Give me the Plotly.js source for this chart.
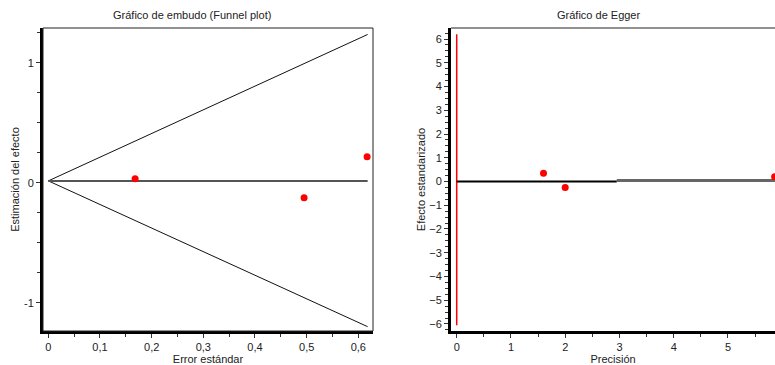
<!DOCTYPE html>
<html>
<head>
<meta charset="utf-8">
<script src="https://cdn.plot.ly/plotly-3.0.1.min.js"></script>
<style>html,body{margin:0;padding:0;background:#fff}#chart{width:775px;height:365px}</style>
</head>
<body>
<div id="chart"></div>
<script>
// Funnel plot data (standard error vs effect estimate)
var seValues = [0.168, 0.495, 0.617];
var effectValues = [0.033, -0.125, 0.217];
// Funnel limits
var funnelX = [0, 0.618];
var funnelUpper = [0.015, 1.235];
var funnelLower = [0.015, -1.2];
var pooledX = [0, 0.618];
var pooledY = [0.015, 0.015];

// Egger plot data (precision vs standardized effect)
var precisionValues = [1.6, 2.0, 5.86];
var stdEffectValues = [0.35, -0.25, 0.2];
var eggerBlackX = [0, 2.95];
var eggerBlackY = [0, 0];
var eggerGrayX = [2.95, 6.2];
var eggerGrayY = [0.04, 0.04];
var redLineX = [0, 0];
var redLineY = [-6.05, 6.2];

var leftXTicks = [0, 0.1, 0.2, 0.3, 0.4, 0.5, 0.6];
var leftYTicks = [-1, 0, 1];
var rightXTicks = [0, 1, 2, 3, 4, 5];
var rightYTicks = [-6, -5, -4, -3, -2, -1, 0, 1, 2, 3, 4, 5, 6];

var font = {family: 'Liberation Sans, Arial, sans-serif', size: 11, color: '#222'};

var traces = [
  {x: funnelX, y: funnelUpper, mode: 'lines', line: {color: '#111', width: 1}, xaxis: 'x', yaxis: 'y', hoverinfo: 'skip'},
  {x: funnelX, y: funnelLower, mode: 'lines', line: {color: '#111', width: 1}, xaxis: 'x', yaxis: 'y', hoverinfo: 'skip'},
  {x: pooledX, y: pooledY, mode: 'lines', line: {color: '#555', width: 2}, xaxis: 'x', yaxis: 'y', hoverinfo: 'skip'},
  {x: seValues, y: effectValues, mode: 'markers', marker: {color: '#ff0000', size: 7}, xaxis: 'x', yaxis: 'y', cliponaxis: false},

  {x: redLineX, y: redLineY, mode: 'lines', line: {color: '#ff0000', width: 1.5}, xaxis: 'x2', yaxis: 'y2', hoverinfo: 'skip'},
  {x: eggerGrayX, y: eggerGrayY, mode: 'lines', line: {color: '#666', width: 3}, xaxis: 'x2', yaxis: 'y2', hoverinfo: 'skip'},
  {x: eggerBlackX, y: eggerBlackY, mode: 'lines', line: {color: '#000', width: 2}, xaxis: 'x2', yaxis: 'y2', hoverinfo: 'skip'},
  {x: precisionValues, y: stdEffectValues, mode: 'markers', marker: {color: '#ff0000', size: 7}, xaxis: 'x2', yaxis: 'y2', cliponaxis: false}
];

var W = 775, H = 365;
function fx(p){return p / W;}
function fy(p){return 1 - p / H;}

var axisCommon = {
  showgrid: false, zeroline: false, showline: true, linecolor: '#000', linewidth: 3,
  ticks: 'outside', ticklen: 4, tickwidth: 1, tickcolor: '#333',
  tickfont: font, fixedrange: true
};

var layout = {
  width: W, height: H,
  margin: {l: 0, r: 0, t: 0, b: 0},
  paper_bgcolor: '#fff', plot_bgcolor: '#fff',
  showlegend: false,
  separators: ',.',
  font: font,
  xaxis: Object.assign({}, axisCommon, {
    domain: [fx(43), fx(373)], range: [-0.0103, 0.6284], anchor: 'y',
    tickvals: leftXTicks, ticktext: leftXTicks.map(function(v){return v === 0 ? '0' : String(v).replace('.', ',');}),
    minor: {dtick: 0.05, tick0: 0, ticks: 'outside', ticklen: 3, tickcolor: '#333'},
    title: {text: 'Error estándar', font: font, standoff: 4}
  }),
  yaxis: Object.assign({}, axisCommon, {
    domain: [fy(331), fy(28)], range: [-1.236, 1.289], anchor: 'x',
    tickvals: leftYTicks, ticktext: ['-1', '0', '1'],
    minor: {dtick: 0.25, tick0: 0, ticks: 'outside', ticklen: 3, tickcolor: '#333'},
    title: {text: 'Estimación del efecto', font: font, standoff: 3}
  }),
  xaxis2: Object.assign({}, axisCommon, {
    domain: [fx(451), 1], range: [-0.105, 5.867], anchor: 'y2',
    tickvals: rightXTicks,
    minor: {dtick: 0.5, tick0: 0, ticks: 'outside', ticklen: 3, tickcolor: '#333'},
    title: {text: 'Precisión', font: font, standoff: 4}
  }),
  yaxis2: Object.assign({}, axisCommon, {
    domain: [fy(331), fy(28)], range: [-6.295, 6.463], anchor: 'x2',
    tickvals: rightYTicks,
    minor: {dtick: 0.25, tick0: 0, ticks: 'outside', ticklen: 3, tickcolor: '#333'},
    title: {text: 'Efecto estandarizado', font: font, standoff: 2}
  }),
  shapes: [
    {type: 'rect', xref: 'paper', yref: 'paper', x0: fx(43), x1: fx(373), y0: fy(331), y1: fy(28), line: {color: '#222', width: 1}, layer: 'above'},
    {type: 'line', xref: 'paper', yref: 'paper', x0: fx(451), x1: 1, y0: fy(28), y1: fy(28), line: {color: '#222', width: 1}, layer: 'above'}
  ],
  annotations: [
    {text: 'Gráfico de embudo (Funnel plot)', xref: 'paper', yref: 'paper', x: fx(192), y: fy(15), showarrow: false, font: font, xanchor: 'center', yanchor: 'middle'},
    {text: 'Gráfico de Egger', xref: 'paper', yref: 'paper', x: fx(598), y: fy(15), showarrow: false, font: font, xanchor: 'center', yanchor: 'middle'}
  ]
};

Plotly.newPlot('chart', traces, layout, {displayModeBar: false, staticPlot: true});
</script>
</body>
</html>
